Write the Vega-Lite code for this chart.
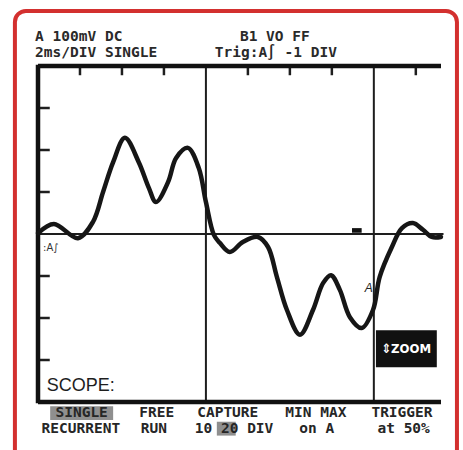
{
  "$schema": "https://vega.github.io/schema/vega-lite/v6.json",
  "width": 403,
  "height": 336,
  "autosize": {"type": "none"},
  "padding": {"left": 38, "top": 66, "right": 22, "bottom": 48},
  "background": "white",
  "config": {"view": {"stroke": null}},
  "datasets": {
    "border": [{"x": -0.55, "x2": 9.98, "y": 5.31, "y2": -5.8}],
    "frame": [
      {"x": 0, "x2": 0, "y": -4.03, "y2": 4.03},
      {"x": 0, "x2": 9.6, "y": 4, "y2": 4},
      {"x": 0, "x2": 9.6, "y": -4, "y2": -4}
    ],
    "grid": [
      {"x": 4, "x2": 4, "y": -4, "y2": 4},
      {"x": 8, "x2": 8, "y": -4, "y2": 4},
      {"x": 0, "x2": 9.66, "y": 0, "y2": 0}
    ],
    "ticks": [
      {"x": 1, "x2": 1, "y": 4, "y2": 3.78},
      {"x": 2, "x2": 2, "y": 4, "y2": 3.78},
      {"x": 3, "x2": 3, "y": 4, "y2": 3.78},
      {"x": 5, "x2": 5, "y": 4, "y2": 3.78},
      {"x": 6, "x2": 6, "y": 4, "y2": 3.78},
      {"x": 7, "x2": 7, "y": 4, "y2": 3.78},
      {"x": 9, "x2": 9, "y": 4, "y2": 3.78},
      {"x": 0, "x2": 0.28, "y": 3, "y2": 3},
      {"x": 0, "x2": 0.28, "y": 2, "y2": 2},
      {"x": 0, "x2": 0.28, "y": 1, "y2": 1},
      {"x": 0, "x2": 0.28, "y": -1, "y2": -1},
      {"x": 0, "x2": 0.28, "y": -2, "y2": -2},
      {"x": 0, "x2": 0.28, "y": -3, "y2": -3}
    ],
    "marker": [{"x": 7.48, "x2": 7.71, "y": 0.03, "y2": 0.14}],
    "zoombox": [{"x": 8.05, "x2": 9.5, "y": -2.29, "y2": -3.17}],
    "highlight": [
      {"x": 0.29, "x2": 1.79, "y": -4.1, "y2": -4.43},
      {"x": 4.26, "x2": 4.71, "y": -4.47, "y2": -4.8}
    ],
    "signal": [
      {"t": 0.0, "v": 0.02},
      {"t": 0.38, "v": 0.24},
      {"t": 0.95, "v": -0.10},
      {"t": 1.31, "v": 0.29},
      {"t": 1.55, "v": 1.0},
      {"t": 1.79, "v": 1.71},
      {"t": 2.07, "v": 2.29},
      {"t": 2.40, "v": 1.71},
      {"t": 2.64, "v": 1.10},
      {"t": 2.81, "v": 0.76},
      {"t": 3.10, "v": 1.24},
      {"t": 3.29, "v": 1.81},
      {"t": 3.57, "v": 2.05},
      {"t": 3.83, "v": 1.57},
      {"t": 4.0, "v": 0.76},
      {"t": 4.19, "v": -0.02},
      {"t": 4.33, "v": -0.21},
      {"t": 4.57, "v": -0.43},
      {"t": 4.88, "v": -0.19},
      {"t": 5.24, "v": -0.07},
      {"t": 5.48, "v": -0.31},
      {"t": 5.69, "v": -1.02},
      {"t": 5.93, "v": -1.81},
      {"t": 6.24, "v": -2.40},
      {"t": 6.55, "v": -1.81},
      {"t": 6.79, "v": -1.17},
      {"t": 6.98, "v": -0.98},
      {"t": 7.19, "v": -1.33},
      {"t": 7.43, "v": -1.98},
      {"t": 7.71, "v": -2.24},
      {"t": 7.98, "v": -1.81},
      {"t": 8.14, "v": -1.02},
      {"t": 8.43, "v": -0.31},
      {"t": 8.67, "v": 0.14},
      {"t": 8.93, "v": 0.26},
      {"t": 9.17, "v": 0.10},
      {"t": 9.38, "v": -0.07},
      {"t": 9.6, "v": -0.07}
    ],
    "toptext": [
      {"x": -0.07, "y": 4.7, "label": "A 100mV DC"},
      {"x": 4.81, "y": 4.7, "label": "B1 VO FF"},
      {"x": -0.07, "y": 4.32, "label": "2ms/DIV SINGLE"},
      {"x": 4.21, "y": 4.32, "label": "Trig:A∫ -1 DIV"}
    ],
    "menutext": [
      {"x": 1.04, "y": -4.26, "label": "SINGLE"},
      {"x": 1.02, "y": -4.64, "label": "RECURRENT"},
      {"x": 2.83, "y": -4.26, "label": "FREE"},
      {"x": 2.76, "y": -4.64, "label": "RUN"},
      {"x": 4.52, "y": -4.26, "label": "CAPTURE"},
      {"x": 4.67, "y": -4.64, "label": "10 20 DIV"},
      {"x": 6.62, "y": -4.26, "label": "MIN MAX"},
      {"x": 6.64, "y": -4.64, "label": "on A"},
      {"x": 8.67, "y": -4.26, "label": "TRIGGER"},
      {"x": 8.71, "y": -4.64, "label": "at 50%"}
    ],
    "scope": [{"x": 0.21, "y": -3.62, "label": "SCOPE:"}],
    "alabel": [{"x": 7.88, "y": -1.29, "label": "A"}],
    "ground": [{"x": 0.12, "y": -0.33, "label": ":A∫"}],
    "zoomtext": [{"x": 8.77, "y": -2.73, "label": "⇕ZOOM"}]
  },
  "encoding": {
    "x": {"field": "x", "type": "quantitative", "scale": {"domain": [0, 9.6], "nice": false, "zero": false}, "axis": null},
    "y": {"field": "y", "type": "quantitative", "scale": {"domain": [-4, 4], "nice": false, "zero": false}, "axis": null}
  },
  "layer": [
    {
      "data": {"name": "border"},
      "mark": {"type": "rect", "fill": null, "stroke": "#d3302f", "strokeWidth": 4, "cornerRadius": 11, "clip": false},
      "encoding": {"x2": {"field": "x2"}, "y2": {"field": "y2"}}
    },
    {
      "data": {"name": "highlight"},
      "mark": {"type": "rect", "fill": "#8f8f8f"},
      "encoding": {"x2": {"field": "x2"}, "y2": {"field": "y2"}}
    },
    {
      "data": {"name": "grid"},
      "mark": {"type": "rule", "color": "#1e1e1e", "strokeWidth": 2},
      "encoding": {"x2": {"field": "x2"}, "y2": {"field": "y2"}}
    },
    {
      "data": {"name": "ticks"},
      "mark": {"type": "rule", "color": "#1e1e1e", "strokeWidth": 2.5},
      "encoding": {"x2": {"field": "x2"}, "y2": {"field": "y2"}}
    },
    {
      "data": {"name": "frame"},
      "mark": {"type": "rule", "color": "#111111", "strokeWidth": 4.5},
      "encoding": {"x2": {"field": "x2"}, "y2": {"field": "y2"}}
    },
    {
      "data": {"name": "marker"},
      "mark": {"type": "rect", "fill": "#111111"},
      "encoding": {"x2": {"field": "x2"}, "y2": {"field": "y2"}}
    },
    {
      "data": {"name": "signal"},
      "mark": {"type": "line", "color": "#161616", "strokeWidth": 4.5, "interpolate": "catmull-rom", "strokeCap": "round", "strokeJoin": "round"},
      "encoding": {
        "x": {"field": "t", "type": "quantitative", "axis": null},
        "y": {"field": "v", "type": "quantitative", "axis": null}
      }
    },
    {
      "data": {"name": "zoombox"},
      "mark": {"type": "rect", "fill": "#111111"},
      "encoding": {"x2": {"field": "x2"}, "y2": {"field": "y2"}}
    },
    {
      "data": {"name": "toptext"},
      "mark": {"type": "text", "font": "DejaVu Sans Mono", "fontSize": 14.5, "fontWeight": "bold", "align": "left", "baseline": "middle", "color": "#2a2a2a"},
      "encoding": {"text": {"field": "label"}}
    },
    {
      "data": {"name": "menutext"},
      "mark": {"type": "text", "font": "DejaVu Sans Mono", "fontSize": 14.5, "fontWeight": "bold", "align": "center", "baseline": "middle", "color": "#262626"},
      "encoding": {"text": {"field": "label"}}
    },
    {
      "data": {"name": "scope"},
      "mark": {"type": "text", "font": "Liberation Sans", "fontSize": 18, "align": "left", "baseline": "middle", "color": "#1e1e1e"},
      "encoding": {"text": {"field": "label"}}
    },
    {
      "data": {"name": "alabel"},
      "mark": {"type": "text", "font": "Liberation Sans", "fontSize": 12, "fontStyle": "italic", "align": "center", "baseline": "middle", "color": "#222222"},
      "encoding": {"text": {"field": "label"}}
    },
    {
      "data": {"name": "ground"},
      "mark": {"type": "text", "font": "DejaVu Sans", "fontSize": 10, "align": "left", "baseline": "middle", "color": "#333333"},
      "encoding": {"text": {"field": "label"}}
    },
    {
      "data": {"name": "zoomtext"},
      "mark": {"type": "text", "font": "DejaVu Sans Condensed", "fontSize": 13, "fontWeight": "bold", "align": "center", "baseline": "middle", "color": "white"},
      "encoding": {"text": {"field": "label"}}
    }
  ]
}
